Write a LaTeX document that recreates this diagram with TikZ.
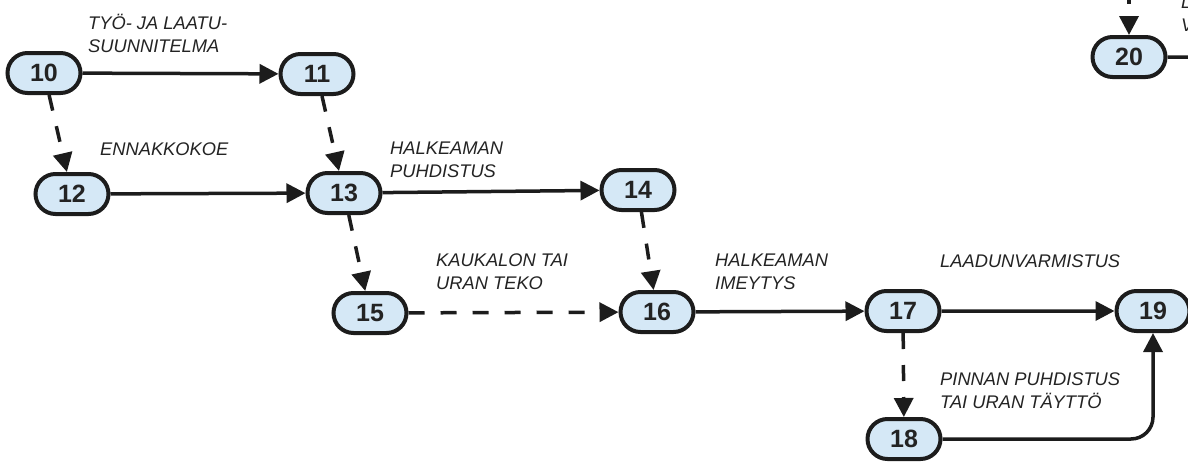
\documentclass[tikz,border=0pt]{standalone}
\usepackage{fontspec}
\setmainfont{Liberation Sans}
\usetikzlibrary{shapes.misc,arrows.meta}
\definecolor{nodefill}{RGB}{213,232,246}
\definecolor{ink}{RGB}{28,28,28}
\definecolor{txt}{RGB}{35,35,35}
\tikzset{
  ev/.style={rounded rectangle, draw=ink, line width=4pt, fill=nodefill,
    minimum width=73pt, minimum height=40pt, inner sep=0pt,
    font=\fontsize{25}{25}\selectfont\bfseries, text=txt},
  conn/.style={draw=ink, line width=3.5pt, -{Triangle[length=19pt,width=19pt]}},
  dconn/.style={conn, dash pattern=on 16pt off 16pt},
  lbl/.style={anchor=base west, inner sep=0pt, align=left, text=txt,
    font=\fontsize{18.3}{23}\selectfont\itshape}
}
\begin{document}
\begin{tikzpicture}[x=1pt,y=-1pt]
\useasboundingbox (0,0) rectangle (1188,463);
\node[ev] (n10) at (44,73) {10};
\node[ev] (n11) at (317,74) {11};
\node[ev] (n12) at (72,194) {12};
\node[ev] (n13) at (344,193) {13};
\node[ev] (n14) at (638,190) {14};
\node[ev] (n15) at (370,313) {15};
\node[ev] (n16) at (657,312) {16};
\node[ev] (n17) at (903,311) {17};
\node[ev] (n18) at (904,439) {18};
\node[ev] (n19) at (1153,311) {19};
\node[ev] (n20) at (1129,57) {20};
\coordinate (top20) at (1129,-12);
\coordinate (right20) at (1200,57);

\draw[conn] (n10) -- (n11);
\draw[dconn] (n10) -- (n12);
\draw[dconn] (n11) -- (n13);
\draw[conn] (n12) -- (n13);
\draw[conn] (n13) -- (n14);
\draw[dconn] (n13) -- (n15);
\draw[dconn] (n14) -- (n16);
\draw[dconn] (n15) -- (n16);
\draw[conn] (n16) -- (n17);
\draw[conn] (n17) -- (n19);
\draw[dconn] (n17) -- (n18);
\draw[conn, rounded corners=22pt] (n18.east) -| (n19.south);
\draw[dconn] (top20) -- (n20);
\draw[draw=ink, line width=3.5pt] (n20) -- (right20);

\node[lbl] (t1) at (88,52) {TYÖ- JA LAATU-\\SUUNNITELMA};
\node[lbl] (t2) at (100,155) {ENNAKKOKOE};
\node[lbl] (t3) at (390,177) {HALKEAMAN\\PUHDISTUS};
\node[lbl] (t4) at (436,289) {KAUKALON TAI\\URAN TEKO};
\node[lbl] (t5) at (715,289) {HALKEAMAN\\IMEYTYS};
\node[lbl] (t6) at (940,267) {LAADUNVARMISTUS};
\node[lbl] (t7) at (940,408) {PINNAN PUHDISTUS\\TAI URAN TÄYTTÖ};
\node[lbl] (t8) at (1181,31) {L\\V};
\end{tikzpicture}
\end{document}
